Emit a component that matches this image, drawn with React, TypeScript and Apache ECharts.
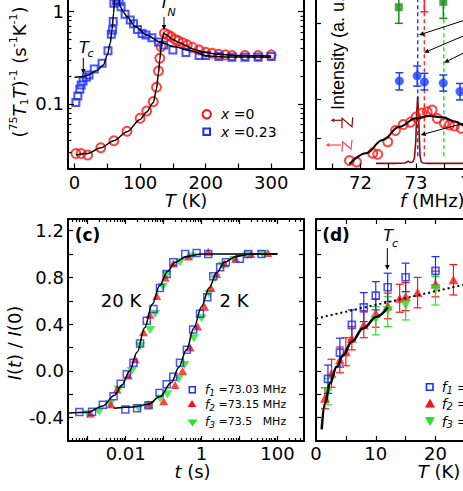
import React, { useEffect, useRef } from "react";
import * as echarts from "echarts";

// ================= Panel (a): (75T1T)^-1 vs T =================
const aT_x0 = [2, 10, 20, 40, 60, 80, 100, 110, 120, 125, 128, 130, 132, 137, 142, 147, 153, 158, 165, 172, 180, 190, 200, 210, 220, 230, 240, 260, 280, 300];
const aRate_x0 = [0.029, 0.029, 0.028, 0.0336, 0.04, 0.0506, 0.07, 0.084, 0.106, 0.152, 0.228, 0.313, 0.418, 0.583, 0.56, 0.537, 0.5, 0.485, 0.46, 0.436, 0.41, 0.385, 0.363, 0.354, 0.345, 0.34, 0.334, 0.334, 0.334, 0.34];
const aT_x023 = [2, 5, 8, 10, 13, 18, 22, 30, 42, 51, 56, 58, 59, 60, 64, 68, 71, 77, 85, 90, 96, 103, 109, 118, 128, 136, 150, 170, 190, 200, 220, 240, 260, 280, 300];
const aRate_x023 = [0.104, 0.122, 0.144, 0.161, 0.177, 0.195, 0.206, 0.239, 0.276, 0.378, 0.569, 0.633, 0.78, 1.23, 1.32, 1.28, 1.13, 0.94, 0.81, 0.74, 0.64, 0.58, 0.56, 0.52, 0.47, 0.435, 0.385, 0.36, 0.335, 0.335, 0.326, 0.32, 0.32, 0.32, 0.326];
const aFitT_x0_low = [2, 20, 40, 60, 80, 100, 110, 120, 125, 128, 130, 132, 134, 136];
const aFitRate_x0_low = [0.028, 0.029, 0.0335, 0.04, 0.05, 0.068, 0.082, 0.103, 0.145, 0.215, 0.3, 0.41, 0.5, 0.59];
const aFitT_x0_high = [136, 140, 150, 160, 170, 180, 200, 220, 250, 300];
const aFitRate_x0_high = [0.59, 0.56, 0.5, 0.46, 0.43, 0.395, 0.36, 0.345, 0.335, 0.33];
const aFitT_x023_low = [0, 10, 15, 20, 34, 44, 50, 54.5, 57, 59.6, 61, 62.5];
const aFitRate_x023_low = [0.195, 0.197, 0.2, 0.205, 0.23, 0.265, 0.34, 0.455, 0.63, 0.96, 1.4, 2.2];
const aFitT_x023_high = [64.5, 66, 69.7, 75, 80, 92.6, 110, 130, 151, 176, 204, 230, 300];
const aFitRate_x023_high = [2.2, 1.5, 1.13, 0.98, 0.88, 0.69, 0.56, 0.47, 0.42, 0.38, 0.33, 0.323, 0.32];
const aXTicks = [0, 50, 100, 150, 200, 250, 300];
const aXLabels = [0, 100, 200, 300];
const aYMajor = [0.1, 1];
const aYMinor = [0.02, 0.03, 0.04, 0.05, 0.06, 0.07, 0.08, 0.09, 0.2, 0.3, 0.4, 0.5, 0.6, 0.7, 0.8, 0.9, 2, 3];

// ================= Panel (b): spectrum =================
const bF_spec = [71.8, 71.93, 72.22, 72.31, 72.49, 72.63, 72.77, 72.9, 73.0, 73.11, 73.2, 73.29, 73.38, 73.51, 73.6, 73.69, 73.81];
const bI_spec = [-0.59, -0.63, -0.4, -0.43, -0.1, 0.19, 0.35, 0.41, 0.545, 0.65, 0.68, 0.725, 0.505, 0.38, 0.335, 0.31, 0.25];
const bF_fit = [71.8, 72.1, 72.4, 72.7, 73.0, 73.24, 73.48, 73.72, 73.85, 74.0];
const bI_fit = [-0.683, -0.404, -0.056, 0.292, 0.51, 0.57, 0.536, 0.422, 0.322, 0.17];
const bF_narrow = [72.28, 72.6, 72.8, 72.86, 72.9, 72.94, 72.97, 72.995, 73.01, 73.03, 73.05, 73.07, 73.09, 73.12, 73.2, 73.5, 74.0, 75.5];
const bI_narrow = [-0.665, -0.665, -0.655, -0.61, -0.645, -0.63, -0.54, -0.1, 0.6, 1.075, 0.4, -0.45, -0.61, -0.655, -0.665, -0.665, -0.665, -0.665];
const bF_blue = [72.7, 73.02, 73.15, 73.49, 73.79];
const bI_blue = [1.485, 1.62, 1.46, 1.43, 1.21];
const bLo_blue = [1.25, 1.35, 1.25, 1.22, 0.99];
const bHi_blue = [1.7, 1.875, 1.685, 1.64, 1.42];
const bF_green = [72.69, 73.49];
const bI_green = [3.41, 3.55];
const bLo_green = [2.99, 3.12];
const bHi_green = [3.83, 3.98];
const bF_red = [73.15];
const bI_red = [3.82];
const bLo_red = [3.29];
const bHi_red = [4.35];
const bMarkFreq = [73.03, 73.15, 73.5];
const bMarkSpan = [-0.48, 4.4];
const bXTicks = [71.5, 72, 72.5, 73, 73.5, 74, 74.5, 75];
const bXLabels = [72, 73, 74, 75];
const bYTicks = [0, 1, 2, 3, 4];

// ================= Panel (c): recovery I(t)/I(0) =================
const c20_t_f1 = [0.0006, 0.0013, 0.0025, 0.0048, 0.0074, 0.0107, 0.016, 0.024, 0.036, 0.054, 0.08, 0.12, 0.18, 0.37, 0.74, 1.5];
const c20_I_f1 = [-0.351, -0.35, -0.29, -0.217, -0.11, -0.028, 0.069, 0.235, 0.43, 0.53, 0.71, 0.83, 0.93, 1.0, 1.01, 1.0];
const c20_t_f2 = [0.00118, 0.0041, 0.0059, 0.0117, 0.0178, 0.0295, 0.0437, 0.066, 0.11, 0.18, 0.45, 1.5];
const c20_I_f2 = [-0.365, -0.285, -0.16, -0.04, 0.1, 0.33, 0.48, 0.64, 0.8, 0.92, 0.98, 1.02];
const c20_t_f3 = [0.001, 0.002, 0.0039, 0.0065, 0.0145, 0.024, 0.0437, 0.06, 0.095, 0.12, 0.27, 0.55];
const c20_I_f3 = [-0.37, -0.35, -0.285, -0.16, 0.0, 0.21, 0.35, 0.49, 0.72, 0.82, 0.93, 0.98];
const c2_t_f1 = [0.0098, 0.02, 0.04, 0.078, 0.12, 0.18, 0.27, 0.41, 0.6, 0.91, 1.41, 2.04, 3.09, 4.37, 10.2, 17, 38];
const c2_I_f1 = [-0.33, -0.32, -0.294, -0.19, -0.114, -0.05, 0.07, 0.18, 0.355, 0.49, 0.63, 0.81, 0.886, 0.93, 0.96, 1.0, 1.0];
const c2_t_f2 = [0.04, 0.1, 0.2, 0.316, 0.5, 0.79, 1.2, 1.78, 2.5, 4, 7.9, 20, 56];
const c2_I_f2 = [-0.285, -0.26, -0.12, 0.0, 0.2, 0.38, 0.55, 0.71, 0.83, 0.92, 0.96, 1.0, 1.01];
const c2_t_f3 = [0.022, 0.043, 0.081, 0.126, 0.25, 0.355, 0.63, 1.0, 1.58, 2.24, 3.55, 7.1, 15.8, 40];
const c2_I_f3 = [-0.32, -0.294, -0.237, -0.2, -0.07, 0.05, 0.28, 0.45, 0.66, 0.79, 0.9, 0.95, 0.99, 1.0];
const c20_fit_t = [0.00031, 0.001, 0.0025, 0.005, 0.008, 0.0126, 0.02, 0.0316, 0.05, 0.079, 0.126, 0.2, 0.4, 1, 100];
const c20_fit_I = [-0.36, -0.355, -0.3, -0.21, -0.12, 0.0, 0.16, 0.37, 0.57, 0.73, 0.85, 0.93, 0.98, 1.0, 1.0];
const c2_fit_t = [0.0048, 0.016, 0.04, 0.08, 0.16, 0.25, 0.4, 0.63, 1.0, 1.58, 2.5, 4, 8, 20, 100];
const c2_fit_I = [-0.32, -0.31, -0.285, -0.22, -0.1, 0.03, 0.18, 0.37, 0.55, 0.71, 0.84, 0.93, 0.98, 1.0, 1.0];
const cXRange = [0.000302, 501];
const cXMajor = [0.001, 0.01, 0.1, 1, 10, 100];
const cXLabels = [0.01, 1, 100];
const cXMinor = [
  0.0004, 0.0005, 0.0006, 0.0007, 0.0008, 0.0009,
  0.002, 0.003, 0.004, 0.005, 0.006, 0.007, 0.008, 0.009,
  0.02, 0.03, 0.04, 0.05, 0.06, 0.07, 0.08, 0.09,
  0.2, 0.3, 0.4, 0.5, 0.6, 0.7, 0.8, 0.9,
  2, 3, 4, 5, 6, 7, 8, 9,
  20, 30, 40, 50, 60, 70, 80, 90,
  200, 300, 400,
];
const cYTicks = [-0.4, -0.2, 0, 0.2, 0.4, 0.6, 0.8, 1.0, 1.2];
const cYLabels = [-0.4, 0, 0.4, 0.8, 1.2];

// ================= Panel (d): vs T at low T =================
const dT_f1 = [2, 4, 6, 8, 10, 12, 15, 20];
const dV_f1 = [2.66, 3.78, 4.97, 5.72, 6.22, 6.58, 7.01, 7.28];
const dLo_f1 = [2.04, 3.16, 4.33, 5.11, 5.61, 5.97, 6.39, 6.68];
const dHi_f1 = [3.25, 4.4, 5.61, 6.35, 6.82, 7.18, 7.61, 7.89];
const dT_f2 = [1.5, 2.6, 4, 5, 6, 8, 10, 12, 14, 15, 17, 20, 23];
const dV_f2 = [1.83, 2.9, 3.47, 3.82, 4.4, 4.97, 5.47, 5.78, 6.11, 6.18, 6.35, 6.72, 6.9];
const dLo_f2 = [1.38, 2.3, 2.92, 3.22, 3.9, 4.42, 4.87, 5.23, 5.51, 5.58, 5.7, 6.17, 6.25];
const dHi_f2 = [2.28, 3.5, 4.02, 4.42, 4.9, 5.52, 6.07, 6.33, 6.71, 6.78, 7.0, 7.27, 7.55];
const dT_f3 = [2, 10, 12, 15, 20];
const dV_f3 = [2.11, 5.21, 5.58, 5.82, 6.5];
const dLo_f3 = [1.55, 4.54, 4.9, 5.18, 5.82];
const dHi_f3 = [2.67, 5.75, 6.18, 6.39, 7.04];
const dFitT = [0.95, 1.5, 2.34, 3.46, 4.57, 5.97, 7.9, 10.15, 12];
const dFitV = [0.5, 1.6, 2.47, 3.18, 3.68, 4.25, 4.83, 5.32, 5.72];
const dLinT = [0, 40];
const dLinV = [5.24, 7.58];
const dXTicks = [5, 10, 15, 20, 25, 30, 35];
const dXLabels = [0, 10, 20, 30, 40];
const dYTicks = [1, 2, 3, 4, 5, 6, 7, 8, 9];

// ================= helpers =================
const FONT = "DejaVu Sans";
const LOG = Math.log10;
const ID = (v: number) => v;
const RED = "#ff1414";
const BLUE = "#1a2cff";
const GREEN = "#22e622";

const pairs = (xs: number[], ys: number[], fx = ID, fy = ID) => xs.map((x, i) => [fx(x), fy(ys[i])]);
const fmtPow = (v: number) => String(+Math.pow(10, v).toPrecision(4));

function ax(o: any) {
  return {
    type: "value",
    gridIndex: o.grid,
    position: o.pos,
    min: o.min,
    max: o.max,
    offset: 0,
    axisLine: o.line
      ? { show: true, onZero: false, lineStyle: { color: "#000", width: 2 } }
      : { show: false, onZero: false },
    axisTick: {
      show: true,
      inside: true,
      length: o.tickLen ?? 5,
      lineStyle: { color: "#000", width: 1.2 },
      customValues: o.ticks,
    },
    axisLabel: o.labels
      ? {
          show: true,
          customValues: o.labels,
          formatter: o.fmt,
          margin: o.margin ?? 4,
          fontFamily: FONT,
          fontSize: 18,
          lineHeight: 16,
          color: "#000",
        }
      : { show: false },
    splitLine: { show: false },
    splitArea: { show: false },
    minorTick: { show: false },
    minorSplitLine: { show: false },
    z: 6,
  };
}

function scat(xi: number, yi: number, data: any[], symbol: string, size: any, itemStyle: any, z = 4, rotate = 0) {
  return { type: "scatter", xAxisIndex: xi, yAxisIndex: yi, data, symbol, symbolSize: size, symbolRotate: rotate, itemStyle, z, silent: true };
}

function line(xi: number, yi: number, data: any[], color: string, width: number, o: any = {}) {
  return {
    type: "line",
    xAxisIndex: xi,
    yAxisIndex: yi,
    data,
    showSymbol: false,
    symbol: "none",
    lineStyle: { color, width, type: o.type ?? "solid" },
    smooth: o.smooth ?? false,
    smoothMonotone: o.smooth ? "x" : undefined,
    z: o.z ?? 5,
    silent: true,
  };
}

function errs(xi: number, yi: number, xs: number[], ys: number[], lo: number[], hi: number[], color: string, cap: number, lw: number) {
  return {
    type: "custom",
    xAxisIndex: xi,
    yAxisIndex: yi,
    silent: true,
    z: 3,
    data: xs.map((x, i) => [x, ys[i], lo[i], hi[i]]),
    encode: { x: 0, y: [1, 2, 3] },
    renderItem: (_p: any, api: any) => {
      const x = api.value(0);
      const a = api.coord([x, api.value(2)]);
      const b = api.coord([x, api.value(3)]);
      const style = { stroke: color, lineWidth: lw, fill: "none" };
      return {
        type: "group",
        children: [
          { type: "line", shape: { x1: a[0], y1: a[1], x2: b[0], y2: b[1] }, style },
          { type: "line", shape: { x1: a[0] - cap, y1: a[1], x2: a[0] + cap, y2: a[1] }, style },
          { type: "line", shape: { x1: b[0] - cap, y1: b[1], x2: b[0] + cap, y2: b[1] }, style },
        ],
      };
    },
  };
}

function text(x: number, y: number, t: string, o: any = {}) {
  const align = o.align ?? "center";
  const va = o.va ?? "middle";
  return {
    type: "text",
    x,
    y,
    rotation: o.rotation ?? 0,
    silent: true,
    z: 10,
    style: {
      text: t,
      fill: o.fill ?? "#000",
      fontFamily: o.fontFamily ?? FONT,
      fontSize: o.fontSize ?? 18,
      fontStyle: o.fontStyle ?? "normal",
      fontWeight: o.fontWeight ?? "normal",
      align,
      textAlign: align,
      verticalAlign: va,
      textVerticalAlign: va,
      lineHeight: o.lineHeight ?? undefined,
      rich: o.rich ?? undefined,
    },
  };
}

function arrow(x1: number, y1: number, x2: number, y2: number, color = "#000", lw = 1, hl = 5, hw = 2.3) {
  const ang = Math.atan2(y2 - y1, x2 - x1);
  const bx = x2 - hl * Math.cos(ang);
  const by = y2 - hl * Math.sin(ang);
  const px = -Math.sin(ang) * hw;
  const py = Math.cos(ang) * hw;
  return [
    { type: "line", silent: true, z: 10, shape: { x1, y1, x2: bx, y2: by }, style: { stroke: color, lineWidth: lw } },
    { type: "polygon", silent: true, z: 10, shape: { points: [[x2, y2], [bx + px, by + py], [bx - px, by - py]] }, style: { fill: color } },
  ];
}

const richMain = (fs: number, lh = 22) => ({
  i: { fontStyle: "italic", fontSize: fs, fontFamily: FONT, lineHeight: lh },
  sup: { fontSize: 11, fontFamily: FONT, verticalAlign: "top", lineHeight: 12 },
  sub: { fontSize: 11, fontFamily: FONT, verticalAlign: "bottom", lineHeight: 12 },
});
const richLeg = (fs: number, fi: number, fsub: number) => ({
  fi: { fontStyle: "italic", fontSize: fi, fontFamily: FONT, lineHeight: 16 },
  sub: { fontStyle: "italic", fontSize: fsub, fontFamily: FONT, verticalAlign: "bottom", lineHeight: 10 },
  n: { fontSize: fs, fontFamily: FONT, lineHeight: 16 },
});

function buildOption() {
  const grids = [
    { left: 68, top: -32.4, width: 236, height: 200.9 },
    { left: 316, top: -30.7, width: 239, height: 199.2 },
    { left: 68, top: 219, width: 236, height: 222 },
    { left: 316, top: 219, width: 239, height: 222 },
  ].map((g) => ({ ...g, containLabel: false, outerBoundsMode: "none", show: false }));

  const cMin = LOG(cXRange[0]);
  const cMax = LOG(cXRange[1]);

  const xAxis = [
    ax({ grid: 0, pos: "bottom", min: -10, max: 350, line: true, ticks: aXTicks, labels: aXLabels, fmt: (v: number) => String(v), margin: 6 }),
    ax({ grid: 1, pos: "bottom", min: 71.2, max: 75.5, line: true, ticks: bXTicks, labels: bXLabels, fmt: (v: number) => String(v), margin: 6 }),
    ax({ grid: 2, pos: "bottom", min: cMin, max: cMax, line: true, ticks: cXMajor.map(LOG), labels: cXLabels.map(LOG), fmt: fmtPow, margin: 4 }),
    ax({ grid: 2, pos: "bottom", min: cMin, max: cMax, line: false, ticks: cXMinor.map(LOG), tickLen: 3 }),
    ax({ grid: 2, pos: "top", min: cMin, max: cMax, line: true, ticks: cXMajor.map(LOG) }),
    ax({ grid: 2, pos: "top", min: cMin, max: cMax, line: false, ticks: cXMinor.map(LOG), tickLen: 3 }),
    ax({ grid: 3, pos: "bottom", min: 0, max: 40, line: true, ticks: dXTicks, labels: dXLabels, fmt: (v: number) => String(v), margin: 4 }),
    ax({ grid: 3, pos: "top", min: 0, max: 40, line: true, ticks: dXTicks }),
  ];
  const aMin = LOG(0.02);
  const aMax = LOG(3);
  const yAxis = [
    ax({ grid: 0, pos: "left", min: aMin, max: aMax, line: true, ticks: aYMajor.map(LOG), labels: aYMajor.map(LOG), fmt: fmtPow, margin: 4, tickLen: 6 }),
    ax({ grid: 0, pos: "left", min: aMin, max: aMax, line: false, ticks: aYMinor.map(LOG), tickLen: 3.5 }),
    ax({ grid: 0, pos: "right", min: aMin, max: aMax, line: true, ticks: aYMajor.map(LOG), tickLen: 6 }),
    ax({ grid: 0, pos: "right", min: aMin, max: aMax, line: false, ticks: aYMinor.map(LOG), tickLen: 3.5 }),
    ax({ grid: 1, pos: "left", min: -0.8, max: 4.4, line: true, ticks: bYTicks }),
    ax({ grid: 2, pos: "left", min: -0.6, max: 1.3, line: true, ticks: cYTicks, labels: cYLabels, fmt: (v: number) => v.toFixed(1), margin: 4 }),
    ax({ grid: 2, pos: "right", min: -0.6, max: 1.3, line: true, ticks: cYTicks }),
    ax({ grid: 3, pos: "left", min: 0, max: 9.5, line: true, ticks: dYTicks }),
  ];

  const hollow = (c: string, w: number) => ({ color: "rgba(255,255,255,0)", borderColor: c, borderWidth: w });
  const filled = (c: string) => ({ color: c, borderWidth: 0 });

  const series: any[] = [
    // ---- (a)
    scat(0, 0, pairs(aT_x0, aRate_x0, ID, LOG), "circle", 9, hollow(RED, 2)),
    scat(0, 0, pairs(aT_x023, aRate_x023, ID, LOG), "rect", 7, hollow(BLUE, 2)),
    line(0, 0, pairs(aFitT_x0_low, aFitRate_x0_low, ID, LOG), "#000", 1.5, { smooth: 0.3 }),
    line(0, 0, pairs(aFitT_x0_high, aFitRate_x0_high, ID, LOG), "#000", 1.5, { smooth: 0.3 }),
    line(0, 0, pairs(aFitT_x023_low, aFitRate_x023_low, ID, LOG), "#000", 1.5, { smooth: 0.3 }),
    line(0, 0, pairs(aFitT_x023_high, aFitRate_x023_high, ID, LOG), "#000", 1.5, { smooth: 0.3 }),
    // ---- (b)
    line(1, 4, bMarkSpan.map((v) => [bMarkFreq[0], v]), "#2a3cff", 1.5, { type: [4, 3], z: 2 }),
    line(1, 4, bMarkSpan.map((v) => [bMarkFreq[1], v]), "#ff2a2a", 1.5, { type: [4, 3], z: 2 }),
    line(1, 4, bMarkSpan.map((v) => [bMarkFreq[2], v]), "#33dd33", 1.5, { type: [4, 3], z: 2 }),
    line(1, 4, pairs(bF_narrow, bI_narrow), "#8b0d0d", 1.6, { z: 3 }),
    scat(1, 4, pairs(bF_spec, bI_spec), "circle", 9, hollow(RED, 2)),
    line(1, 4, pairs(bF_fit, bI_fit), "#000", 2, { smooth: 0.4 }),
    errs(1, 4, bF_blue, bI_blue, bLo_blue, bHi_blue, "#1f3dff", 4, 1.5),
    errs(1, 4, bF_green, bI_green, bLo_green, bHi_green, "#1e8c1e", 4, 1.5),
    errs(1, 4, bF_red, bI_red, bLo_red, bHi_red, "#ff2020", 4, 1.5),
    scat(1, 4, pairs(bF_blue, bI_blue), "circle", 9, filled("#1f3dff")),
    scat(1, 4, pairs(bF_green, bI_green), "rect", 8, filled("#1e8c1e")),
    scat(1, 4, pairs(bF_red, bI_red), "rect", 8, filled("#ff2020")),
    // ---- (c)
    scat(2, 5, pairs(c20_t_f3, c20_I_f3, LOG), "triangle", [10, 8], filled(GREEN), 4, 180),
    scat(2, 5, pairs(c2_t_f3, c2_I_f3, LOG), "triangle", [10, 8], filled(GREEN), 4, 180),
    scat(2, 5, pairs(c20_t_f2, c20_I_f2, LOG), "triangle", [9, 8], filled(RED), 4),
    scat(2, 5, pairs(c2_t_f2, c2_I_f2, LOG), "triangle", [9, 8], filled(RED), 4),
    scat(2, 5, pairs(c20_t_f1, c20_I_f1, LOG), "rect", 7, hollow(BLUE, 1.5), 4),
    scat(2, 5, pairs(c2_t_f1, c2_I_f1, LOG), "rect", 7, hollow(BLUE, 1.5), 4),
    line(2, 5, pairs(c20_fit_t, c20_fit_I, LOG), "#000", 1.5, { smooth: 0.35 }),
    line(2, 5, pairs(c2_fit_t, c2_fit_I, LOG), "#000", 1.5, { smooth: 0.35 }),
    // ---- (d)
    errs(6, 7, dT_f2, dV_f2, dLo_f2, dHi_f2, RED, 4, 1.2),
    errs(6, 7, dT_f3, dV_f3, dLo_f3, dHi_f3, GREEN, 4, 1.2),
    errs(6, 7, dT_f1, dV_f1, dLo_f1, dHi_f1, BLUE, 4, 1.2),
    scat(6, 7, pairs(dT_f2, dV_f2), "triangle", [10, 9], filled(RED), 4),
    scat(6, 7, pairs(dT_f3, dV_f3), "triangle", [10, 9], filled(GREEN), 4, 180),
    scat(6, 7, pairs(dT_f1, dV_f1), "rect", 7, hollow(BLUE, 1.6), 4),
    line(6, 7, pairs(dLinT, dLinV), "#000", 2, { type: [2, 3], z: 5 }),
    line(6, 7, pairs(dFitT, dFitV), "#000", 2.5, { smooth: 0.4, z: 5 }),
  ];

  const R = richMain(18);
  const RT = richMain(18, 14);
  const g: any[] = [
    // (a) titles & annotations
    text(19, 72, "({sup|75}{i|T}{sub|1}{i|T}){sup|-1} (s{sup|-1}K{sup|-1})", { rotation: Math.PI / 2, rich: R, lineHeight: 22 }),
    text(186, 200, "{i|T} (K)", { rich: RT, lineHeight: 14 }),
    text(79, 47.5, "T", { align: "left", fontSize: 16, fontStyle: "italic" }),
    text(87.5, 53.5, "c", { align: "left", fontSize: 11, fontStyle: "italic" }),
    ...arrow(83.3, 58, 83.3, 74),
    text(159.5, 2.5, "T", { align: "left", fontSize: 16, fontStyle: "italic" }),
    text(167.5, 12, "N", { align: "left", fontSize: 11, fontStyle: "italic" }),
    ...arrow(164, 17, 164, 30),
    { type: "circle", silent: true, z: 10, shape: { cx: 206.7, cy: 114.2, r: 4.2 }, style: { fill: "none", stroke: RED, lineWidth: 2 } },
    { type: "rect", silent: true, z: 10, shape: { x: 203.4, y: 128.4, width: 6.6, height: 6.6 }, style: { fill: "none", stroke: BLUE, lineWidth: 2 } },
    text(221, 114.2, "{i|x} =0", { align: "left", fontSize: 14, rich: richMain(14) }),
    text(221, 131.7, "{i|x} =0.23", { align: "left", fontSize: 14, rich: richMain(14) }),
    // (b)
    text(338, 110, "Intensity (a. u.)", { align: "left", rotation: Math.PI / 2, fontFamily: "Liberation Sans", fontSize: 18 }),
    text(400, 200, "{i|f} (MHz)", { align: "left", rich: RT, lineHeight: 14 }),
    { type: "polyline", silent: true, z: 10, shape: { points: [[342, 128.3], [342, 118.3], [352, 126.7], [352.7, 117.3]] }, style: { fill: "none", stroke: "#8b0d0d", lineWidth: 1.2 } },
    ...arrow(342, 120.3, 330.5, 120.3, "#8b0d0d", 1.2, 4, 2),
    { type: "polyline", silent: true, z: 10, shape: { points: [[342, 151.7], [342.7, 141.7], [351, 149.3], [352, 140]] }, style: { fill: "none", stroke: "#ff4a4a", lineWidth: 1.2 } },
    ...arrow(341, 145, 325.5, 145, "#ff4a4a", 1.2, 4, 2),
    ...arrow(475, 16.8, 419, 35),
    ...arrow(475, 31, 424, 52.7),
    ...arrow(475, 47.4, 444, 62.7),
    ...arrow(475, 120.2, 420.7, 135),
    // (c)
    text(87.5, 235, "(c)", { fontWeight: "bold", fontSize: 17 }),
    text(121, 300, "20 K"),
    text(234, 300, "2 K"),
    text(14, 343, "{i|I}({i|t}) / {i|I}(0)", { rotation: Math.PI / 2, rich: R }),
    text(192.5, 471, "{i|t} (s)", { rich: RT, lineHeight: 14 }),
    { type: "rect", silent: true, z: 10, shape: { x: 189.3, y: 386.7, width: 6, height: 6 }, style: { fill: "none", stroke: BLUE, lineWidth: 1.5 } },
    { type: "polygon", silent: true, z: 10, shape: { points: [[192, 400], [187.5, 407], [196.5, 407]] }, style: { fill: RED } },
    { type: "polygon", silent: true, z: 10, shape: { points: [[187.5, 419.5], [197.5, 419.5], [192.5, 426.5]] }, style: { fill: GREEN } },
    text(205, 389.5, "{fi|f}{sub|1}{n| =73.03 MHz}", { align: "left", fontSize: 11, rich: richLeg(11, 12, 9) }),
    text(205, 404.5, "{fi|f}{sub|2}{n| =73.15 MHz}", { align: "left", fontSize: 11, rich: richLeg(11, 12, 9) }),
    text(205, 421.8, "{fi|f}{sub|3}{n| =73.5   MHz}", { align: "left", fontSize: 11, rich: richLeg(11, 12, 9) }),
    // (d)
    text(336, 235, "(d)", { fontWeight: "bold", fontSize: 17 }),
    text(439, 471, "{i|T} (K)", { rich: RT, lineHeight: 14 }),
    text(383.3, 235, "T", { align: "left", fontSize: 16, fontStyle: "italic" }),
    text(392, 243, "c", { align: "left", fontSize: 11, fontStyle: "italic" }),
    ...arrow(387.3, 248, 387.3, 270),
    { type: "rect", silent: true, z: 10, shape: { x: 426.5, y: 383.8, width: 6.5, height: 6.5 }, style: { fill: "none", stroke: BLUE, lineWidth: 1.6 } },
    { type: "polygon", silent: true, z: 10, shape: { points: [[430, 398.5], [425, 407.5], [435, 407.5]] }, style: { fill: RED } },
    { type: "polygon", silent: true, z: 10, shape: { points: [[425, 417], [435, 417], [430, 426]] }, style: { fill: GREEN } },
    text(441.7, 387, "{fi|f}{sub|1}{n| =73.03 MHz}", { align: "left", fontSize: 13, rich: richLeg(13, 14, 10) }),
    text(441.7, 403.5, "{fi|f}{sub|2}{n| =73.15 MHz}", { align: "left", fontSize: 13, rich: richLeg(13, 14, 10) }),
    text(441.7, 421.5, "{fi|f}{sub|3}{n| =73.5   MHz}", { align: "left", fontSize: 13, rich: richLeg(13, 14, 10) }),
  ];

  return {
    animation: false,
    backgroundColor: "#fff",
    textStyle: { fontFamily: FONT },
    grid: grids,
    xAxis,
    yAxis,
    series,
    graphic: { elements: g },
  };
}

export default function App() {
  const ref = useRef<HTMLDivElement>(null);
  useEffect(() => {
    if (!ref.current) return;
    const chart = echarts.init(ref.current, null, { renderer: "svg" });
    chart.setOption(buildOption() as any);
    return () => chart.dispose();
  }, []);
  return (
    <div
      ref={ref}
      style={{ position: "absolute", left: 0, top: 0, width: 463, height: 491, background: "#fff" }}
    />
  );
}
